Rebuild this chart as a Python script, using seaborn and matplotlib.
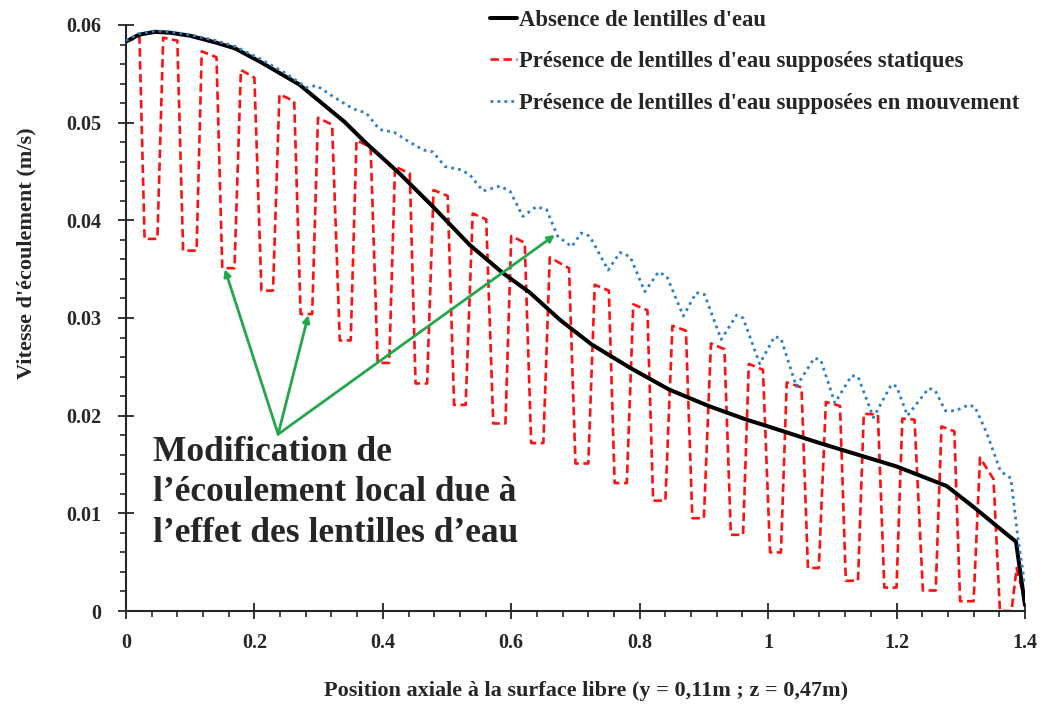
import matplotlib
matplotlib.use("Agg")
import matplotlib.pyplot as plt
from matplotlib.ticker import MultipleLocator, FuncFormatter
import seaborn as sns

# values (x in m, velocity in m/s)
x_absence = [0.0, 0.02, 0.045, 0.07, 0.1, 0.14, 0.17, 0.21, 0.27, 0.34,
             0.374, 0.426, 0.478, 0.535, 0.587, 0.629, 0.676, 0.725, 0.785, 0.845,
             0.907, 0.966, 1.0, 1.08, 1.2, 1.278, 1.319, 1.356, 1.386, 1.4]
v_absence = [0.0583, 0.0590, 0.0593, 0.0592, 0.0589, 0.0582, 0.0576, 0.0562, 0.0539, 0.0501,
             0.0479, 0.0448, 0.0414, 0.0375, 0.0346, 0.0326, 0.0298, 0.0273, 0.0249, 0.0227,
             0.0210, 0.0196, 0.0189, 0.0172, 0.0148, 0.0128, 0.0107, 0.0087, 0.0071, 0.0006]

x_static = [0.0, 0.021, 0.029, 0.049, 0.058, 0.080, 0.089, 0.110, 0.118, 0.141,
            0.150, 0.169, 0.179, 0.200, 0.211, 0.229, 0.239, 0.262, 0.272, 0.290,
            0.299, 0.321, 0.333, 0.350, 0.359, 0.381, 0.392, 0.410, 0.419, 0.442,
            0.451, 0.469, 0.479, 0.501, 0.511, 0.529, 0.540, 0.561, 0.572, 0.591,
            0.600, 0.621, 0.631, 0.650, 0.660, 0.690, 0.700, 0.720, 0.730, 0.752,
            0.761, 0.780, 0.790, 0.812, 0.821, 0.840, 0.851, 0.872, 0.882, 0.900,
            0.911, 0.932, 0.942, 0.961, 0.970, 0.992, 1.003, 1.020, 1.029, 1.052,
            1.062, 1.079, 1.090, 1.112, 1.121, 1.140, 1.149, 1.171, 1.181, 1.200,
            1.209, 1.228, 1.241, 1.261, 1.270, 1.290, 1.299, 1.320, 1.330, 1.351,
            1.361, 1.379, 1.387, 1.400]
v_static = [0.0583, 0.0588, 0.0381, 0.0381, 0.0587, 0.0584, 0.0369, 0.0369, 0.0573, 0.0567,
            0.0351, 0.0351, 0.0554, 0.0546, 0.0328, 0.0328, 0.0529, 0.0522, 0.0304, 0.0304,
            0.0505, 0.0498, 0.0277, 0.0277, 0.0482, 0.0475, 0.0254, 0.0254, 0.0455, 0.0448,
            0.0233, 0.0233, 0.0431, 0.0425, 0.0211, 0.0211, 0.0407, 0.0401, 0.0192, 0.0192,
            0.0384, 0.0377, 0.0172, 0.0172, 0.0362, 0.0351, 0.0151, 0.0151, 0.0334, 0.0328,
            0.0131, 0.0131, 0.0314, 0.0308, 0.0113, 0.0113, 0.0292, 0.0287, 0.0095, 0.0095,
            0.0274, 0.0268, 0.0078, 0.0078, 0.0253, 0.0247, 0.0060, 0.0060, 0.0234, 0.0229,
            0.0044, 0.0044, 0.0214, 0.0210, 0.0031, 0.0031, 0.0202, 0.0201, 0.0024, 0.0024,
            0.0197, 0.0196, 0.0021, 0.0021, 0.0189, 0.0184, 0.0010, 0.0010, 0.0157, 0.0135,
            0.0, 0.0, 0.0044, 0.0010]

x_moving = [0.0, 0.02, 0.045, 0.07, 0.1, 0.14, 0.17, 0.21, 0.25, 0.281,
            0.297, 0.322, 0.354, 0.374, 0.395, 0.418, 0.437, 0.463, 0.478, 0.497,
            0.520, 0.535, 0.556, 0.582, 0.598, 0.618, 0.639, 0.655, 0.672, 0.694,
            0.709, 0.722, 0.751, 0.769, 0.785, 0.808, 0.829, 0.842, 0.868, 0.888,
            0.901, 0.927, 0.951, 0.961, 0.987, 1.010, 1.020, 1.044, 1.072, 1.082,
            1.104, 1.130, 1.140, 1.164, 1.192, 1.200, 1.217, 1.250, 1.260, 1.276,
            1.292, 1.312, 1.322, 1.340, 1.362, 1.378, 1.389, 1.400]
v_moving = [0.0584, 0.0591, 0.0594, 0.0593, 0.0590, 0.0584, 0.0578, 0.0565, 0.0550, 0.0536,
            0.0538, 0.0527, 0.0514, 0.0510, 0.0493, 0.0490, 0.0482, 0.0472, 0.0470, 0.0455,
            0.0452, 0.0447, 0.0430, 0.0435, 0.0430, 0.0404, 0.0414, 0.0411, 0.0384, 0.0373,
            0.0387, 0.0384, 0.0349, 0.0367, 0.0363, 0.0327, 0.0347, 0.0343, 0.0302, 0.0326,
            0.0324, 0.0278, 0.0303, 0.0300, 0.0253, 0.0281, 0.0279, 0.0230, 0.0259, 0.0257,
            0.0213, 0.0241, 0.0240, 0.0198, 0.0232, 0.0230, 0.0200, 0.0228, 0.0226, 0.0205,
            0.0205, 0.0211, 0.0209, 0.0183, 0.0143, 0.0136, 0.0075, 0.0026]

labels = ["Absence de lentilles d'eau",
          "Présence de lentilles d'eau supposées statiques",
          "Présence de lentilles d'eau supposées en mouvement"]
note = "Modification de\nl’écoulement local due à\nl’effet des lentilles d’eau"
arrow_tail = (0.237, 0.0181)
arrow_head_x = [0.154, 0.284, 0.668]
arrow_head_y = [0.0350, 0.0303, 0.0385]

sns.set_style("ticks")
plt.rcParams["font.family"] = ["Liberation Serif", "DejaVu Serif"]
plt.rcParams["font.weight"] = "bold"
plt.rcParams["axes.labelweight"] = "bold"

fig, ax = plt.subplots(figsize=(10.41, 7.04), dpi=100)
fig.subplots_adjust(left=0.121, right=0.9846, bottom=0.1321, top=0.9645)

sns.lineplot(x=x_absence, y=v_absence, ax=ax, color="black", lw=2.9,
             sort=False, estimator=None, label=labels[0], zorder=3)
sns.lineplot(x=x_static, y=v_static, ax=ax, color="#ff1010", lw=1.9,
             linestyle=(0, (3.2, 1.7)), sort=False, estimator=None,
             label=labels[1], zorder=2)
sns.lineplot(x=x_moving, y=v_moving, ax=ax, color="#2f7fc8", lw=2.0,
             linestyle=(0, (1.0, 1.5)), sort=False, estimator=None,
             label=labels[2], zorder=4)

ax.set_xlim(0, 1.4)
ax.set_ylim(0, 0.06)
ax.xaxis.set_major_locator(MultipleLocator(0.2))
ax.xaxis.set_minor_locator(MultipleLocator(0.04))
ax.yaxis.set_major_locator(MultipleLocator(0.01))
ax.yaxis.set_minor_locator(MultipleLocator(0.002))
fmt = FuncFormatter(lambda v, p: f"{v:g}")
ax.xaxis.set_major_formatter(fmt)
ax.yaxis.set_major_formatter(fmt)
ax.tick_params(which="major", direction="inout", length=11, width=1.3, labelsize=14.5)
ax.tick_params(axis="x", which="major", pad=10)
ax.tick_params(axis="y", which="major", pad=12)
ax.tick_params(which="minor", direction="out", length=4.5, width=1.2)
sns.despine(ax=ax)
for s in ("left", "bottom"):
    ax.spines[s].set_linewidth(1.5)

ax.set_xlabel("Position axiale à la surface libre (y = 0,11m ; z = 0,47m)", fontsize=16)
ax.set_ylabel("Vitesse d'écoulement (m/s)", fontsize=16)
ax.xaxis.set_label_coords(0.512, -0.12)
ax.yaxis.set_label_coords(-0.100, 0.61)

green = "#22a84a"
for hx, hy in zip(arrow_head_x, arrow_head_y):
    ax.annotate("", xy=(hx, hy), xytext=arrow_tail,
                arrowprops=dict(arrowstyle="-|>", color=green, lw=2.0,
                                mutation_scale=10, shrinkA=0, shrinkB=0))

fig.text(152.7 / 1041, 1 - 436 / 704, note, fontsize=25.5, fontweight="bold",
         ha="left", va="top", linespacing=1.3)

ax.legend(loc="upper left", bbox_to_anchor=(490 / 1041, 1 - 10 / 704),
          bbox_transform=fig.transFigure, frameon=False, fontsize=16.3,
          handlelength=1.2, handletextpad=0.1, labelspacing=0.9,
          borderpad=0, borderaxespad=0)

fig.savefig("out.png", dpi=100)
plt.close(fig)
